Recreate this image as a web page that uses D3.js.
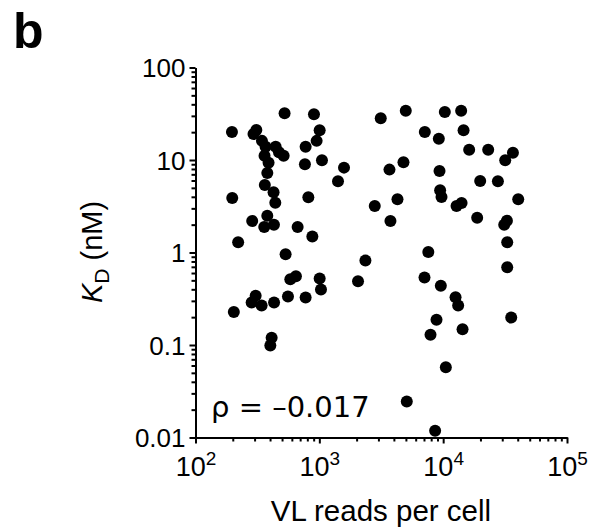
<!DOCTYPE html>
<html lang="en">
<head>
<meta charset="UTF-8">
<script src="https://cdn.jsdelivr.net/npm/d3@7"></script>
<title>KD vs VL reads</title>
<style>
    body { margin: 0; background: #fff; }
    svg text { font-family: "Liberation Sans", Arial, sans-serif; fill: #000; }
    .axis path, .axis line { stroke: #000; stroke-width: 2; }
</style>
</head>
<body>
<div id="canvas"></div>
<script>
    // VL reads per cell (x) and KD in nM (y)
    var readsPerCell = [524, 905, 197, 310, 294, 344, 368, 444, 472, 515,
        361, 389, 1006, 951, 775, 765, 1050, 1582, 1415, 380,
        363, 427, 441, 198, 815, 380, 287, 359, 430, 668,
        878, 221, 534, 3133, 2802,
        4989, 10314, 13973, 7107, 9225, 14613, 16218, 23101, 36588, 31700,
        4780, 3684, 9346, 19903, 27670, 9450, 9700, 4276, 12823, 14080,
        40373, 3752, 18820, 32720, 31120, 32900, 7586,
        2356, 583, 647, 1006, 1031, 2053, 306, 284, 342, 431, 558, 775, 204, 412, 402,
        32900, 7068, 9575, 12587, 13213, 8837, 14340, 35440, 7903, 10507, 5083, 8610];
    var kd = [32.0, 31.2, 20.1, 21.1, 19.1, 16.1, 13.9, 13.9, 12.1, 11.1,
        11.1, 9.36, 21.0, 16.1, 13.9, 9.0, 9.94, 8.27, 5.89, 7.25,
        5.38, 4.48, 3.46, 3.89, 3.96, 2.49, 2.19, 1.89, 1.99, 1.89,
        1.49, 1.29, 0.959, 28.3, 3.19,
        34.1, 33.0, 34.1, 20.1, 17.0, 21.0, 12.9, 12.9, 12.0, 9.94,
        9.46, 7.87, 7.61, 5.94, 5.89, 4.71, 3.99, 3.77, 3.19, 3.43,
        3.77, 2.19, 2.38, 2.21, 1.99, 1.29, 1.01,
        0.818, 0.515, 0.555, 0.522, 0.397, 0.490, 0.340, 0.288, 0.267, 0.288, 0.334, 0.326, 0.228, 0.1195, 0.0987,
        0.694, 0.536, 0.436, 0.329, 0.267, 0.188, 0.148, 0.198, 0.129, 0.0576, 0.0245, 0.0118];

    var xMajor = [1e2, 1e3, 1e4, 1e5];
    var xTickExp = ["2", "3", "4", "5"];
    var yMajor = [0.01, 0.1, 1, 10, 100];
    var yTickLabels = ["0.01", "0.1", "1", "10", "100"];
    var rhoLabel = "ρ = –0.017";

    function minors(lo, hi) {
        var out = [];
        for (var d = lo; d < hi; d *= 10)
            for (var k = 2; k <= 9; k++) out.push(d * k);
        return out;
    }

    var svg = d3.select("#canvas").append("svg")
        .attr("width", 592).attr("height", 527);

    var x = d3.scaleLog().domain([1e2, 1e5]).range([195.5, 567]);
    var y = d3.scaleLog().domain([0.01, 100]).range([437.5, 67.5]);

    // x axis
    svg.append("g").classed("axis", true)
        .attr("transform", "translate(0,437.5)")
        .call(d3.axisBottom(x).tickValues(minors(1e2, 1e5)).tickSize(4).tickSizeOuter(0).tickFormat(""));
    var xg = svg.append("g").classed("axis", true)
        .attr("transform", "translate(0,437.5)")
        .call(d3.axisBottom(x).tickValues(xMajor).tickSize(6).tickSizeOuter(0).tickFormat(""));
    xg.selectAll(".tick").each(function (d, i) {
        var t = d3.select(this).append("text")
            .attr("y", 38).attr("text-anchor", "middle")
            .style("font-size", "27px");
        t.append("tspan").text("10");
        t.append("tspan").attr("dy", -11).style("font-size", "19px").text(xTickExp[i]);
    });

    // y axis
    svg.append("g").classed("axis", true)
        .attr("transform", "translate(195.5,0)")
        .call(d3.axisLeft(y).tickValues(minors(0.01, 100)).tickSize(4).tickSizeOuter(0).tickFormat(""));
    svg.append("g").classed("axis", true)
        .attr("transform", "translate(195.5,0)")
        .call(d3.axisLeft(y).tickValues(yMajor).tickSize(6).tickSizeOuter(0)
            .tickFormat(function (d, i) { return yTickLabels[i]; }))
        .call(function (g) {
            g.selectAll(".tick text").attr("x", -10).attr("dy", "0.36em")
                .style("font-size", "26px").style("font-family", "'Liberation Sans', Arial, sans-serif");
        });

    // points
    svg.append("g").selectAll("circle")
        .data(readsPerCell)
        .enter().append("circle")
        .attr("cx", function (d) { return x(d); })
        .attr("cy", function (d, i) { return y(kd[i]); })
        .attr("r", 6)
        .attr("fill", "#000");

    // axis titles
    svg.append("text")
        .attr("x", 381).attr("y", 521).attr("text-anchor", "middle")
        .style("font-size", "29.5px").text("VL reads per cell");

    var yl = svg.append("text")
        .attr("transform", "translate(102,252) rotate(-90)")
        .attr("text-anchor", "middle")
        .style("font-size", "29px");
    yl.append("tspan").style("font-style", "italic").text("K");
    yl.append("tspan").attr("dy", 7).style("font-size", "21px").text("D");
    yl.append("tspan").attr("dy", -7).text(" (nM)");

    svg.append("text")
        .attr("x", 211).attr("y", 417)
        .style("font-family", "'DejaVu Sans', sans-serif")
        .style("font-size", "29px").text(rhoLabel);

    // panel letter
    svg.append("text")
        .attr("x", 13).attr("y", 48)
        .style("font-size", "50px").style("font-weight", "bold").text("b");
</script>
</body>
</html>
